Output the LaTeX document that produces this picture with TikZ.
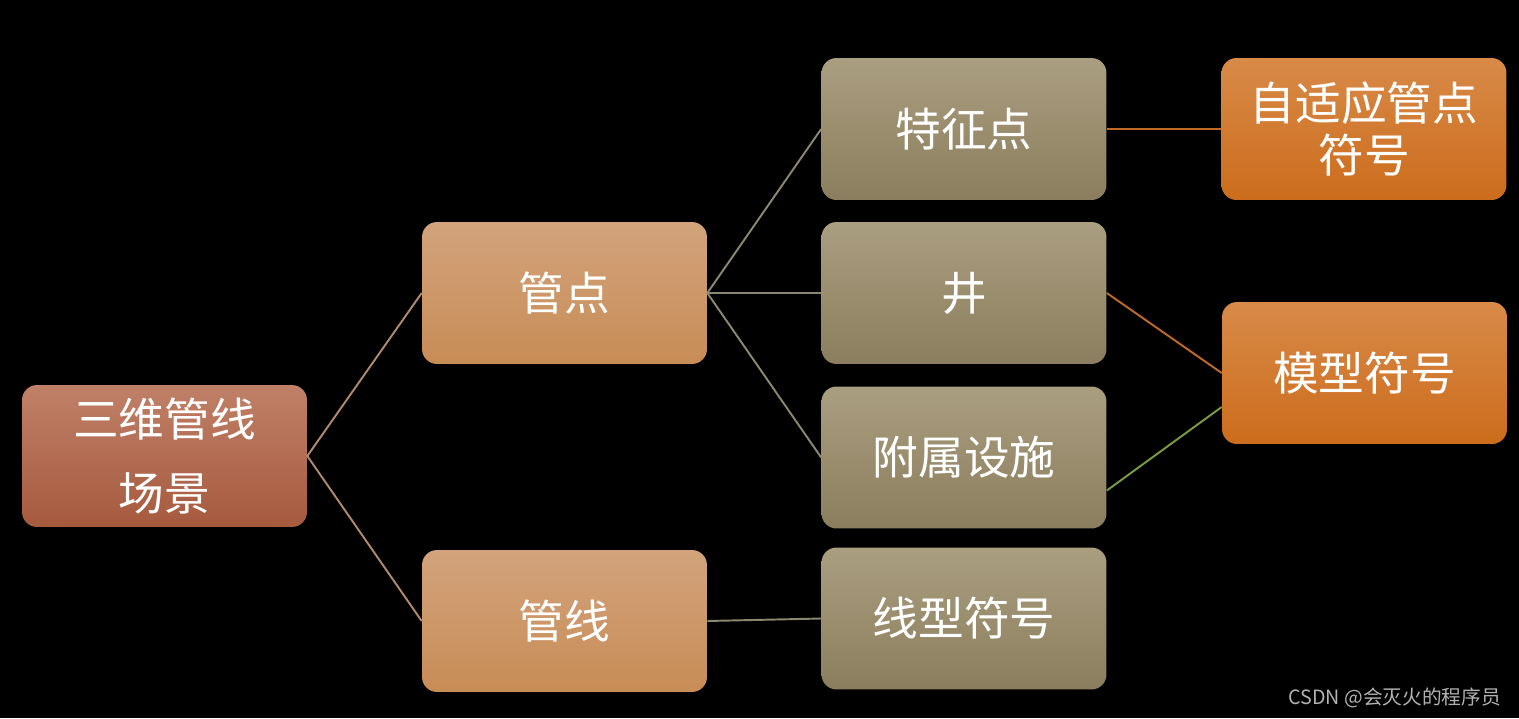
\documentclass[tikz,border=0pt]{standalone}
\usepackage{fontspec}
\setmainfont{Noto Sans CJK SC}
\newfontfamily\cjk{Noto Sans CJK SC}
\definecolor{rootT}{RGB}{192,128,104}
\definecolor{rootB}{RGB}{166,90,62}
\definecolor{midT}{RGB}{210,163,124}
\definecolor{midB}{RGB}{200,140,86}
\definecolor{olvT}{RGB}{170,158,128}
\definecolor{olvB}{RGB}{138,126,94}
\definecolor{orgT}{RGB}{216,138,72}
\definecolor{orgB}{RGB}{204,108,28}
\definecolor{lnTan}{RGB}{176,138,106}
\definecolor{lnOlv}{RGB}{138,136,110}
\definecolor{lnOrg}{RGB}{192,106,42}
\definecolor{lnGrn}{RGB}{122,156,64}
\definecolor{wmk}{RGB}{178,178,178}
\tikzset{
  box/.style={rounded corners=0.3cm, minimum width=5.7cm, minimum height=2.84cm,
    text=white, align=center, inner sep=0pt, font=\cjk\fontsize{26}{30}\selectfont},
  rootbox/.style={box, top color=rootT, bottom color=rootB},
  midbox/.style={box, top color=midT, bottom color=midB},
  olvbox/.style={box, top color=olvT, bottom color=olvB},
  orgbox/.style={box, top color=orgT, bottom color=orgB},
  conn/.style={line width=1.1pt}
}
\begin{document}
\begin{tikzpicture}[x=0.02cm, y=-0.02cm]
\fill[black] (0,0) rectangle (1519,718);
\useasboundingbox (0,0) rectangle (1519,718);
\node[rootbox] (root) at (164.5,456) {三维管线\\[0.42cm]场景};
\node[midbox] (gd) at (564.5,293) {管点};
\node[midbox] (gx) at (564.5,621) {管线};
\node[olvbox] (tz) at (964,129) {特征点};
\node[olvbox] (jing) at (964,293) {井};
\node[olvbox] (fs) at (964,457.5) {附属设施};
\node[olvbox] (xx) at (964,618.5) {线型符号};
\node[orgbox] (zsy) at (1364,129) {自适应管点\\[-0.03cm]符号};
\node[orgbox] (mx) at (1364.5,373) {模型符号};
\node[text=wmk, anchor=east, font=\cjk\fontsize{11.2}{13}\selectfont] (wm) at (1507,698) {CSDN @会灭火的程序员};
\draw[conn, lnTan] (root.east) -- (gd.west);
\draw[conn, lnTan] (root.east) -- (gx.west);
\draw[conn, lnOlv] (gd.east) -- (tz.west);
\draw[conn, lnOlv] (gd.east) -- (jing.west);
\draw[conn, lnOlv] (gd.east) -- (fs.west);
\draw[conn, lnOlv] (gx.east) -- (xx.west);
\draw[conn, lnOrg] (tz.east) -- (zsy.west);
\draw[conn, lnOrg] (jing.east) -- (mx.west);
\draw[conn, lnGrn] ([yshift=-0.66cm]fs.east) -- ([yshift=-0.68cm]mx.west);
\end{tikzpicture}
\end{document}
